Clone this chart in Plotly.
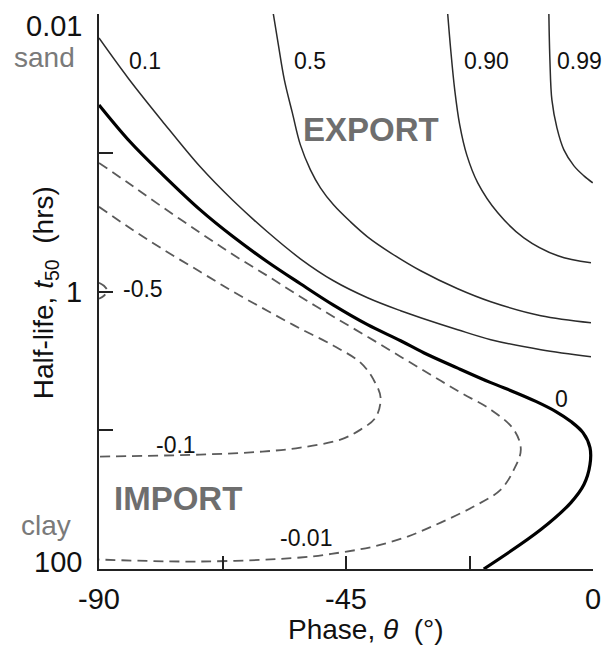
import numpy as np
import plotly.graph_objects as go

# ---- data ----
# contour 0.99
theta_p99 = [-8.04, -7.85, -7.49, -6.57, -5.30, -3.47, -1.65, -0.05]
t_p99 = [0.01, 0.02145, 0.04162, 0.0662, 0.09535, 0.1243, 0.1467, 0.1648]
# contour 0.90
theta_p90 = [-26.47, -25.92, -25.19, -24.28, -23.00, -21.00, -17.35, -12.60, -6.39, -0.37]
t_p90 = [0.01, 0.01816, 0.03526, 0.0630, 0.1036, 0.1648, 0.2710, 0.4102, 0.5527, 0.6209]
# contour 0.5
theta_p50 = [-58.24, -57.32, -56.23, -54.77, -53.31, -51.48, -49.66, -47.28, -44.18, -41.08,
             -36.88, -31.40, -24.65, -18.62, -9.50, -0.37]
t_p50 = [0.01, 0.01672, 0.02987, 0.05162, 0.08777, 0.1328, 0.1790, 0.2373, 0.3146, 0.4034,
         0.5260, 0.7089, 0.9554, 1.185, 1.495, 1.679]
# contour 0.1
theta_p10 = [-90, -84.71, -78.50, -71.56, -65.54, -59.33, -53.31, -47.28, -41.08, -35.05,
             -30.85, -24.65, -18.62, -9.50, -0.37]
t_p10 = [0.01489, 0.02889, 0.05896, 0.1264, 0.2221, 0.3713, 0.5810, 0.8368, 1.109, 1.376,
         1.571, 1.886, 2.226, 2.627, 2.950]
# contour 0 (thick)
theta_0 = [-90, -84.34, -78.50, -71.56, -65.54, -59.33, -53.31, -47.28, -41.08, -35.05, -30.85,
           -24.65, -18.62, -14.06, -10.41, -6.76, -4.02, -1.83, -0.55, -0.55, -1.65, -4.02, -9.50, -19.90]
t_0 = [0.0452, 0.0833, 0.1424, 0.2580, 0.4034, 0.6105, 0.8794, 1.254, 1.734, 2.263, 2.761,
       3.566, 4.538, 5.359, 6.194, 7.332, 8.653, 10.41, 13.34, 17.68, 24.63, 33.20, 51.95, 100]
# contour -0.01 (dashed, outer loop)
theta_m01 = [-90, -84.71, -78.50, -71.56, -65.54, -59.33, -53.31, -47.28, -41.08, -35.05, -29.58,
             -24.10, -18.62, -14.42, -13.15, -14.42, -16.80, -21.73, -27.75, -33.77, -39.98,
             -46.01, -53.31, -71.56, -90]
t_m01 = [0.1183, 0.1648, 0.2453, 0.3776, 0.5436, 0.7703, 1.091, 1.520, 2.118, 2.950, 3.977,
         5.359, 7.104, 9.897, 13.79, 19.21, 26.76, 35.48, 46.27, 58.34, 68.87,
         76.07, 82.65, 88.31, 85.44]
# contour -0.1 (dashed, inner loop)
theta_m10 = [-90, -84.71, -78.50, -71.56, -65.54, -59.33, -53.31, -47.28, -42.35, -39.98, -38.70,
             -39.62, -42.35, -46.01, -53.31, -60.24, -71.56, -90]
t_m10 = [0.2453, 0.3419, 0.4923, 0.7209, 1.004, 1.376, 1.854, 2.458, 3.258, 4.320, 5.824,
         8.110, 9.897, 11.68, 13.34, 14.25, 14.98, 15.48]
# contour -0.5 (tiny arc at the axis)
theta_m50 = [-90, -89.1, -88.5, -89.1, -90]
t_m50 = [0.865, 0.909, 0.988, 1.073, 1.128]

# contour labels: text, theta, half-life
label_text = ["0.1", "0.5", "0.90", "0.99", "0", "-0.5", "-0.1", "-0.01"]
label_theta = [-81.6, -51.5, -19.35, -2.4, -5.66, -82.0, -75.9, -52.2]
label_t = [0.0218, 0.0218, 0.0218, 0.0218, 5.92, 0.955, 12.7, 59.3]

region_text = ["EXPORT", "IMPORT"]
region_theta = [-40.5, -75.6]
region_t = [0.0684, 31.1]

xtick_vals = [-90, -45, 0]
xtick_text = ["-90", "-45", "0"]
xminor_vals = [-67.5, -22.5]
ytick_vals = [0.01, 1, 100]
ytick_text = ["0.01", "1", "100"]
yminor_vals = [0.1, 10]

FONT = "Liberation Sans, Arial, Helvetica, sans-serif"

fig = go.Figure()

thin = dict(color="#2b2b2b", width=1.5, shape="spline", smoothing=1.0)
dashed = dict(color="#5a5a5a", width=1.8, dash="10px,6px", shape="spline", smoothing=1.0)

for th, tt in [(theta_p99, t_p99), (theta_p90, t_p90), (theta_p50, t_p50), (theta_p10, t_p10)]:
    fig.add_trace(go.Scatter(x=th, y=tt, mode="lines", line=thin, hoverinfo="skip"))
fig.add_trace(go.Scatter(x=theta_0, y=t_0, mode="lines",
                         line=dict(color="#000000", width=3.2, shape="spline", smoothing=1.0),
                         hoverinfo="skip"))
for th, tt in [(theta_m01, t_m01), (theta_m10, t_m10), (theta_m50, t_m50)]:
    fig.add_trace(go.Scatter(x=th, y=tt, mode="lines", line=dashed, hoverinfo="skip"))

annotations = []
for txt, th, tt in zip(label_text, label_theta, label_t):
    annotations.append(dict(x=th, y=np.log10(tt), xref="x", yref="y", text=txt, showarrow=False,
                            font=dict(family=FONT, size=23, color="#111111"),
                            xanchor="center", yanchor="middle"))
for txt, th, tt in zip(region_text, region_theta, region_t):
    annotations.append(dict(x=th, y=np.log10(tt), xref="x", yref="y", text="<b>%s</b>" % txt,
                            showarrow=False, font=dict(family=FONT, size=33, color="#6e6e6e"),
                            xanchor="center", yanchor="middle"))

# y tick labels (placed next to the axis, as in the reference)
yshift = {0.01: -12, 1: 0, 100: 7}
for v, txt in zip(ytick_vals, ytick_text):
    annotations.append(dict(x=0, y=np.log10(v), xref="paper", yref="y", text=txt, showarrow=False,
                            xanchor="right", yanchor="middle", xshift=-15, yshift=yshift.get(v, 0),
                            font=dict(family=FONT, size=29, color="#111111")))

annotations += [
    dict(x=-0.111, y=0.921, xref="paper", yref="paper", text="sand", showarrow=False,
         font=dict(family=FONT, size=28, color="#7a7a7a"), xanchor="center", yanchor="middle"),
    dict(x=-0.107, y=0.078, xref="paper", yref="paper", text="clay", showarrow=False,
         font=dict(family=FONT, size=28, color="#7a7a7a"), xanchor="center", yanchor="middle"),
    dict(x=-0.109, y=0.497, xref="paper", yref="paper", textangle=-90,
         text="Half-life, <i>t</i><sub>50</sub>  (hrs)", showarrow=False,
         font=dict(family=FONT, size=28, color="#111111"), xanchor="center", yanchor="middle"),
    dict(x=0.540, y=-0.109, xref="paper", yref="paper",
         text="Phase, <i>θ</i>  (°)", showarrow=False,
         font=dict(family=FONT, size=28, color="#111111"), xanchor="center", yanchor="middle"),
]

fig.update_layout(
    width=605, height=646,
    margin=dict(l=99, r=12, t=14, b=77, autoexpand=False),
    paper_bgcolor="white", plot_bgcolor="white",
    showlegend=False,
    annotations=annotations,
    font=dict(family=FONT, color="#111111"),
)
fig.update_xaxes(range=[-90, 0], tickmode="array", tickvals=xtick_vals, ticktext=xtick_text,
                 automargin=False,
                 ticks="inside", ticklen=13, tickwidth=1.5, tickcolor="#222222",
                 minor=dict(tickmode="array", tickvals=xminor_vals, ticks="inside", ticklen=13,
                            tickwidth=1.5, tickcolor="#222222", showgrid=False),
                 showline=True, linecolor="#222222", linewidth=2, showgrid=False, zeroline=False,
                 tickfont=dict(family=FONT, size=29, color="#111111"), ticklabelstandoff=3)
fig.update_yaxes(type="log", range=[2, -2], tickmode="array", tickvals=ytick_vals,
                 showticklabels=False, automargin=False,
                 ticks="inside", ticklen=14, tickwidth=1.5, tickcolor="#222222",
                 minor=dict(tickmode="array", tickvals=yminor_vals, ticks="inside", ticklen=14,
                            tickwidth=1.5, tickcolor="#222222", showgrid=False),
                 showline=True, linecolor="#222222", linewidth=2, showgrid=False, zeroline=False)

fig.write_html("out.html", config={"displayModeBar": False},
               post_script="document.body.style.margin='0';document.body.style.overflow='hidden';")
